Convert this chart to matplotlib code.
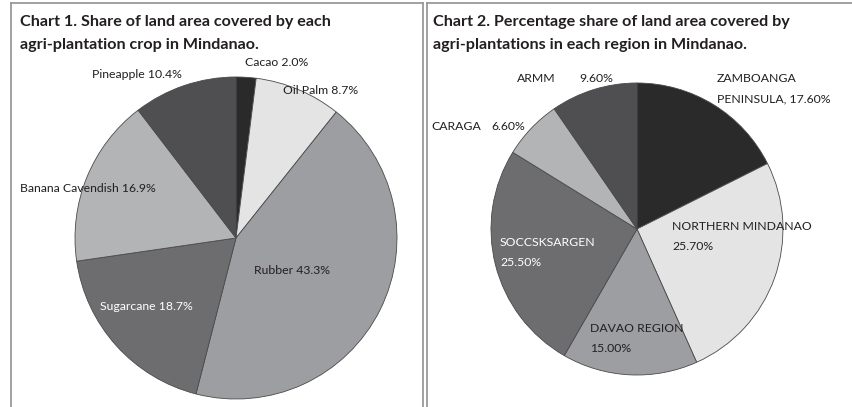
import matplotlib
matplotlib.use("Agg")
import matplotlib.pyplot as plt
from matplotlib.lines import Line2D

W, H = 852, 407

crops = ["Cacao", "Oil Palm", "Rubber", "Sugarcane", "Banana Cavendish", "Pineapple"]
crop_share = [2.0, 8.7, 43.3, 18.7, 16.9, 10.4]

regions = ["ZAMBOANGA PENINSULA", "NORTHERN MINDANAO", "DAVAO REGION",
           "SOCCSKSARGEN", "CARAGA", "ARMM"]
region_share = [17.60, 25.70, 15.00, 25.50, 6.60, 9.60]

greys = ["#2b2a2b", "#e4e4e5", "#9d9ea1", "#6d6d6f", "#b3b4b6", "#4f4f51"]
TEXT = "#231f20"

plt.rcParams["font.family"] = ["Lato", "DejaVu Sans"]

fig = plt.figure(figsize=(W / 100, H / 100), dpi=100)


def px(x, y):
    return x / W, 1 - y / H


def pie_axes(cx, cy, r):
    return fig.add_axes([(cx - r) / W, (H - cy - r) / H, 2 * r / W, 2 * r / H])


def fit(ax):
    # pie() pads the limits; make radius 1 fill the axes box
    ax.set_xlim(-1, 1)
    ax.set_ylim(-1, 1)
    ax.axis("off")


# panel borders
border = dict(color="#9a9a9a", linewidth=1.3, transform=fig.transFigure)
for xs, ys in [((11, 11), (3, 407)), ((11, 423), (3, 3)), ((423, 423), (3, 407)),
               ((427, 427), (3, 407)), ((427, 852), (3, 3))]:
    fig.add_artist(Line2D([x / W for x in xs], [1 - y / H for y in ys], **border))

# titles
title_kw = dict(fontsize=11.6, fontweight="bold", color=TEXT, va="center", ha="left")
fig.text(*px(20, 22), "Chart 1. Share of land area covered by each", **title_kw)
fig.text(*px(20, 45), "agri-plantation crop in Mindanao.", **title_kw)
fig.text(*px(433, 22), "Chart 2. Percentage share of land area covered by", **title_kw)
fig.text(*px(433, 45), "agri-plantations in each region in Mindanao.", **title_kw)

wedge_kw = dict(edgecolor="#4a4a4a", linewidth=0.6)

ax1 = pie_axes(236, 238, 161)
ax1.pie(crop_share, colors=greys, startangle=90, counterclock=False,
        radius=1, wedgeprops=wedge_kw)
fit(ax1)

ax2 = pie_axes(637, 229, 146)
ax2.pie(region_share, colors=greys, startangle=90, counterclock=False,
        radius=1, wedgeprops=wedge_kw)
fit(ax2)

lab_kw = dict(fontsize=8.8, va="center", ha="left", zorder=5)

# chart 1 labels
crop_pos = [(245, 63), (283, 91), (254, 270), (100, 307), (20, 188), (92, 74)]
crop_col = [TEXT, TEXT, TEXT, "white", TEXT, TEXT]
for name, val, (x, y), c in zip(crops, crop_share, crop_pos, crop_col):
    fig.text(*px(x, y), f"{name} {val:.1f}%", color=c, **lab_kw)

# chart 2 labels (name line, value line)
reg_lines = [
    [("ZAMBOANGA", 717, 78), ("PENINSULA, {v}", 717, 99)],
    [("NORTHERN MINDANAO", 672, 227), ("{v}", 672, 247)],
    [("DAVAO REGION", 590, 328), ("{v}", 590, 349)],
    [("SOCCSKSARGEN", 500, 242), ("{v}", 500, 263)],
    [("CARAGA", 431, 126), ("{v}", 491, 126)],
    [("ARMM", 517, 78), ("{v}", 579, 78)],
]
reg_col = [TEXT, TEXT, TEXT, "white", TEXT, TEXT]
for val, lines, c in zip(region_share, reg_lines, reg_col):
    for txt, x, y in lines:
        fig.text(*px(x, y), txt.format(v=f"{val:.2f}%"), color=c, **lab_kw)

fig.savefig("out.png", dpi=100)
